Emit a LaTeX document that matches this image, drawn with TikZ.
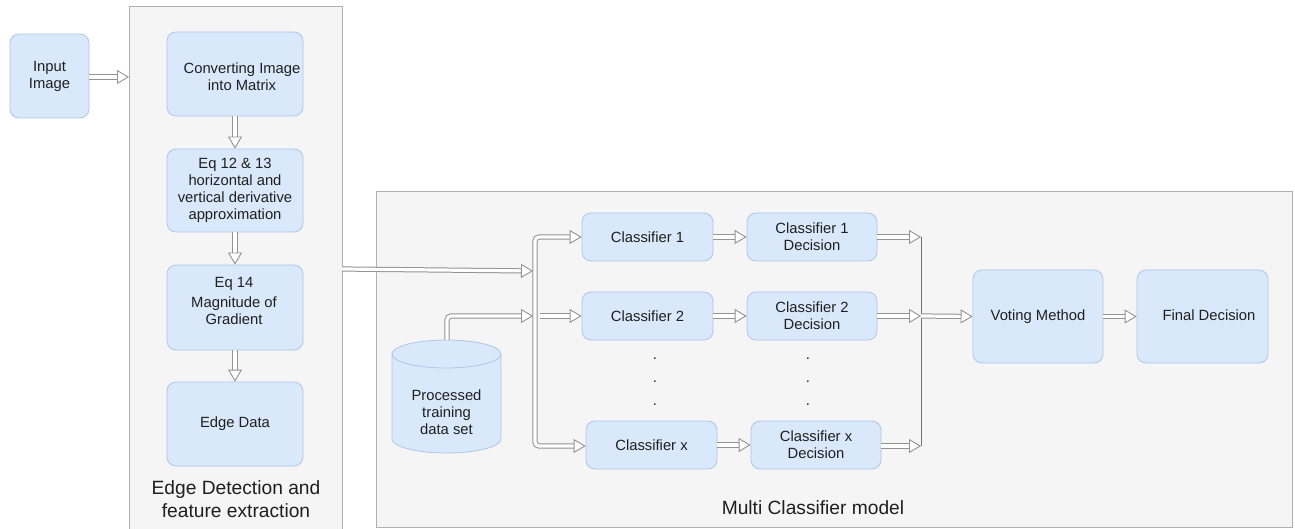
\documentclass[tikz,border=0pt]{standalone}
\usepackage{fontspec}
\setmainfont{Liberation Sans}
\usetikzlibrary{arrows.meta,calc}
\definecolor{boxfill}{HTML}{DAE8FC}
\definecolor{boxline}{HTML}{AEC6E8}
\definecolor{panelfill}{HTML}{F5F5F5}
\definecolor{panelline}{HTML}{B0B0B0}
\definecolor{arrowgray}{HTML}{939393}
\definecolor{mergegray}{HTML}{707070}
\definecolor{txt}{HTML}{1F1F1F}
\begin{document}
\begin{tikzpicture}[x=1pt,y=-1pt,
  box/.style={draw=boxline, fill=boxfill, rounded corners=9pt, line width=0.8pt,
    inner sep=0pt, align=center, text=txt, font=\fontsize{14.8}{17}\selectfont},
  plain/.style={inner sep=0pt, align=center, text=txt, font=\fontsize{14.8}{17}\selectfont},
  biglabel/.style={inner sep=0pt, align=center, text=txt, font=\fontsize{19.2}{23}\selectfont},
  panel/.style={draw=panelline, fill=panelfill, line width=0.8pt},
  tipA/.tip={Triangle[length=12pt,width=14pt,color=arrowgray,fill=white,line width=0.9pt]},
  hollow/.style={draw=white, line width=3.2pt, -tipA,
    preaction={draw=arrowgray, line width=5.2pt, -, shorten >=8pt}},
  hollowboth/.style={draw=white, line width=3.2pt, tipA-tipA,
    preaction={draw=arrowgray, line width=5.2pt, -, shorten >=8pt, shorten <=8pt}},
  merge/.style={draw=mergegray, line width=0.9pt},
  cyl/.style={draw=boxline, fill=boxfill, line width=0.8pt}
]
\useasboundingbox (0,0) rectangle (1295,529);
\fill[white] (0,0) rectangle (1295,529);

% panels
\node[panel, minimum width=213pt, minimum height=530pt, inner sep=0pt, anchor=north west] (lpanel) at (129,6) {};
\node[panel, minimum width=916pt, minimum height=336pt, inner sep=0pt, anchor=north west] (rpanel) at (376,191) {};

% left column
\node[box, minimum width=79pt, minimum height=84pt] (inp) at (49.5,76) {Input\\Image};
\node[box, minimum width=136pt, minimum height=84pt] (conv) at (235,74) {};
\node[plain] (convT) at (242,77) {Converting Image\\into Matrix};
\node[box, minimum width=136pt, minimum height=83pt] (eqa) at (235,190.5) {Eq 12 \& 13\\horizontal and\\vertical derivative\\approximation};
\node[box, minimum width=136pt, minimum height=85pt] (eqb) at (235,307.5) {};
\node[plain] (eqbT) at (234,301) {Eq 14\\[3pt]Magnitude of\\Gradient};
\node[box, minimum width=136pt, minimum height=84pt] (edge) at (235,424) {Edge Data};
\node[biglabel] (lplabel) at (236,499) {Edge Detection and\\feature extraction};

\coordinate (lpIn) at (129,77);
\coordinate (lpOut) at (342,269);
\coordinate (inA) at (533,271);

\draw[hollow] (inp.east |- lpIn) -- (lpIn);
\draw[hollow] (conv.south) -- (eqa.north);
\draw[hollow] (eqa.south) -- (eqb.north);
\draw[hollow] (eqb.south) -- (edge.north);
\draw[hollow] (lpOut) -- (inA);

% cylinder
\fill[boxfill] (392,354) rectangle (501,439);
\fill[boxfill] (446.5,439) ellipse[x radius=54.5, y radius=14];
\draw[cyl] (392,354) -- (392,439) arc[start angle=180, end angle=0, x radius=54.5, y radius=14] -- (501,354);
\draw[cyl] (446.5,354) ellipse[x radius=54.5, y radius=14];
\node[plain] (dataT) at (446.5,412) {Processed\\training\\data set};
\coordinate (dtop) at (447,340);
\coordinate (inB) at (533,316);
\draw[hollow, rounded corners=4pt] (dtop) -- (447,316) -- (inB);

% classifiers
\node[box, minimum width=131pt, minimum height=48pt] (c1) at (647.5,237) {Classifier 1};
\node[box, minimum width=131pt, minimum height=48pt] (c2) at (647.5,316) {Classifier 2};
\node[box, minimum width=131pt, minimum height=48pt] (cx) at (651.5,445) {Classifier x};
\node[box, minimum width=130pt, minimum height=48pt] (d1) at (812,237) {Classifier 1\\Decision};
\node[box, minimum width=130pt, minimum height=48pt] (d2) at (812,316) {Classifier 2\\Decision};
\node[box, minimum width=130pt, minimum height=48pt] (dx) at (816,445) {Classifier x\\Decision};

\node[plain] (dotA1) at (655,359) {.};
\node[plain] (dotA2) at (655,382) {.};
\node[plain] (dotA3) at (655,405) {.};
\node[plain] (dotB1) at (808,359) {.};
\node[plain] (dotB2) at (808,382) {.};
\node[plain] (dotB3) at (808,405) {.};

% bus
\coordinate (busTop) at (535,237);
\coordinate (busBot) at (535,446);
\coordinate (c2in) at (540,316);
\draw[hollowboth, rounded corners=4pt] (c1.west) -- (busTop) -- (busBot) -- (cx.west |- busBot);
\draw[hollow] (c2in) -- (c2.west);

\draw[hollow] (c1.east) -- (d1.west);
\draw[hollow] (c2.east) -- (d2.west);
\draw[hollow] (cx.east) -- (dx.west);

% merge
\coordinate (mTop) at (921,237);
\coordinate (mMid) at (921,316);
\coordinate (mBot) at (921,446);
\draw[merge] (mTop) -- (mBot);
\draw[hollow] (d1.east) -- (mTop);
\draw[hollow] (d2.east) -- (mMid);
\draw[hollow] (dx.east |- mBot) -- (mBot);

\node[box, minimum width=130pt, minimum height=93pt] (vote) at (1038,316.5) {Voting Method};
\node[box, minimum width=131pt, minimum height=93pt] (final) at (1202.5,316.5) {};
\node[plain] (finalT) at (1209,315) {Final Decision};
\draw[hollow] (mMid) -- (vote.west);
\draw[hollow] (vote.east) -- (final.west);

\node[biglabel] (rplabel) at (813,508) {Multi Classifier model};
\end{tikzpicture}
\end{document}
